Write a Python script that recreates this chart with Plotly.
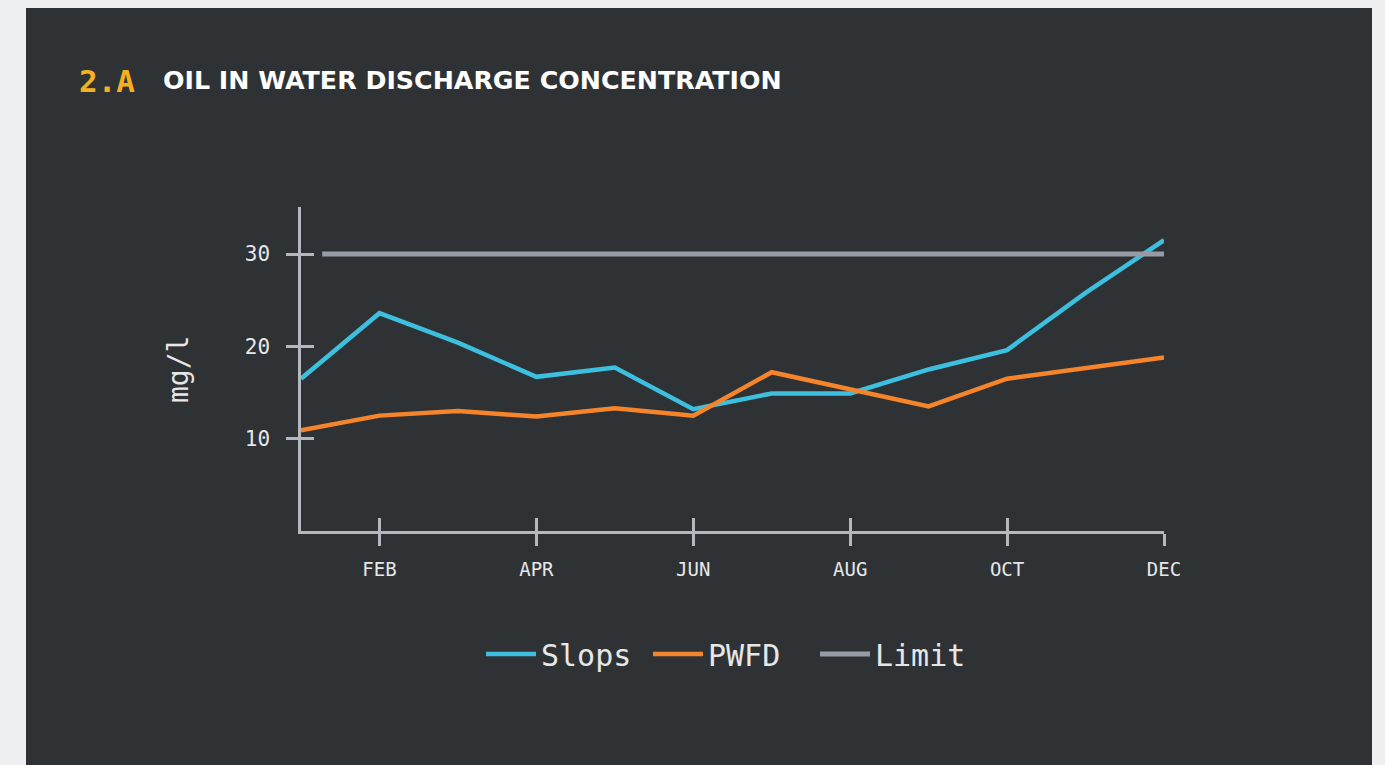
import plotly.graph_objects as go

# ---- data ----
months = [1, 2, 3, 4, 5, 6, 7, 8, 9, 10, 11, 12]
slops = [16.5, 23.6, 20.4, 16.7, 17.7, 13.2, 14.9, 14.9, 17.5, 19.6, 25.8, 31.5]
pwfd = [10.9, 12.5, 13.0, 12.4, 13.3, 12.5, 17.2, 15.3, 13.5, 16.5, 17.7, 18.8]
limit_months = [1.27, 12]
limit_values = [30, 30]
tick_months = [2, 4, 6, 8, 10, 12]
tick_labels = ["FEB", "APR", "JUN", "AUG", "OCT", "DEC"]
y_ticks = [10, 20, 30]

# ---- style ----
BG_PAGE = "#eff0f2"
BG_PANEL = "#2f3234"
AXIS = "#b4b9bf"
TEXT = "#e6e7e8"
MONO = "DejaVu Sans Mono"
X_RANGE = [1, 12]
Y_RANGE = [0, 35.1]

fig = go.Figure()
fig.add_trace(go.Scatter(x=months, y=slops, name="Slops", mode="lines",
                         line=dict(color="#3dc0e0", width=4.5), cliponaxis=False))
fig.add_trace(go.Scatter(x=months, y=pwfd, name="PWFD", mode="lines", xaxis="x2", yaxis="y",
                         line=dict(color="#f5842b", width=4.5), cliponaxis=False))
fig.add_trace(go.Scatter(x=limit_months, y=limit_values, name="Limit", mode="lines",
                         xaxis="x", yaxis="y2",
                         line=dict(color="#959ca5", width=5), cliponaxis=False))

L, R, T, B = 301, 221, 207, 234
W, H = 1385, 765
pw, ph = W - L - R, H - T - B

def px_x(p):
    return (p - L) / pw

def px_y(p):
    return (H - B - p) / ph

fig.update_layout(
    width=W, height=H,
    margin=dict(l=L, r=R, t=T, b=B, autoexpand=False),
    paper_bgcolor=BG_PAGE,
    plot_bgcolor=BG_PANEL,
    showlegend=True,
    legend=dict(orientation="h", x=px_x(481), y=px_y(654), xanchor="left", yanchor="middle",
                font=dict(family=MONO, size=30, color=TEXT), itemwidth=50,
                entrywidth=102, entrywidthmode="pixels",
                bgcolor="rgba(0,0,0,0)", traceorder="normal"),
    shapes=[dict(type="rect", xref="paper", yref="paper", layer="below",
                 x0=px_x(26), x1=px_x(1372), y0=px_y(800), y1=px_y(8),
                 fillcolor=BG_PANEL, line=dict(width=0))],
    annotations=[
        dict(text="<b>2.A</b>", xref="paper", yref="paper", x=px_x(77), y=px_y(81),
             xanchor="left", yanchor="middle", showarrow=False,
             font=dict(family=MONO, size=31, color="#f5b021")),
        dict(text="<b>OIL IN WATER DISCHARGE CONCENTRATION</b>", xref="paper", yref="paper",
             x=px_x(161), y=px_y(80), xanchor="left", yanchor="middle", showarrow=False,
             font=dict(family="DejaVu Sans", size=25.3, color="#ffffff")),
        dict(text="mg/l", xref="paper", yref="paper", x=px_x(178), y=px_y(370),
             xanchor="center", yanchor="middle", textangle=-90, showarrow=False,
             font=dict(family=MONO, size=28, color=TEXT)),
    ],
    xaxis=dict(range=X_RANGE, tickvals=tick_months, ticktext=tick_labels,
               showline=True, linecolor=AXIS, linewidth=2.5, showgrid=False, zeroline=False,
               ticks="outside", ticklen=12, tickwidth=2.5, tickcolor=AXIS,
               ticklabelstandoff=7,
               tickfont=dict(family=MONO, size=19, color=TEXT)),
    xaxis2=dict(range=X_RANGE, tickvals=tick_months, overlaying="x", anchor="y", side="bottom",
                showline=False, showgrid=False, zeroline=False, showticklabels=False,
                ticks="inside", ticklen=13, tickwidth=2.5, tickcolor=AXIS),
    yaxis=dict(range=Y_RANGE, tickvals=y_ticks,
               showline=True, linecolor=AXIS, linewidth=2.5, showgrid=False, zeroline=False,
               ticks="outside", ticklen=12, tickwidth=2.5, tickcolor=AXIS,
               ticklabelstandoff=12,
               tickfont=dict(family=MONO, size=21, color=TEXT)),
    yaxis2=dict(range=Y_RANGE, tickvals=y_ticks, overlaying="y", anchor="x", side="left",
                showline=False, showgrid=False, zeroline=False, showticklabels=False,
                ticks="inside", ticklen=13, tickwidth=2.5, tickcolor=AXIS),
)

fig.write_html("out.html", config={"displayModeBar": False},
               post_script="document.body.style.margin='0';document.body.style.background='#eff0f2';")
